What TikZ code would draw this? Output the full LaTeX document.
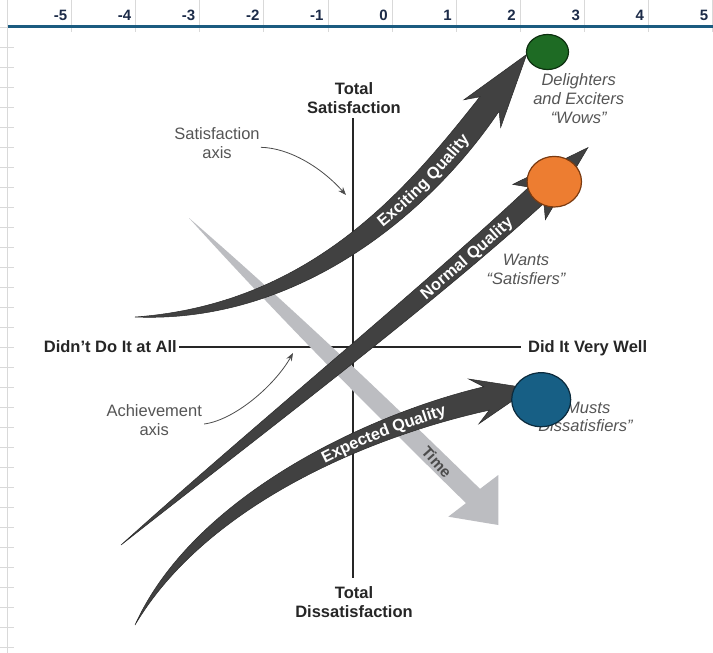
\documentclass[tikz,border=0pt]{standalone}
\usepackage{fontspec}
\setmainfont{Liberation Sans}
\usetikzlibrary{arrows.meta,decorations.text}
\definecolor{gridgray}{HTML}{D9D9D9}
\definecolor{axisblue}{HTML}{1B5B80}
\definecolor{numnavy}{HTML}{1C2B48}
\definecolor{arrowgray}{HTML}{414141}
\definecolor{arrowedge}{HTML}{2A2A2A}
\definecolor{timegray}{HTML}{BCBDC1}
\definecolor{labgray}{HTML}{555555}
\definecolor{axisdark}{HTML}{262626}
\definecolor{greenfill}{HTML}{1E6B24}
\definecolor{greenedge}{HTML}{0D3010}
\definecolor{orangefill}{HTML}{ED7D31}
\definecolor{orangeedge}{HTML}{7A3A10}
\definecolor{bluefill}{HTML}{175F85}
\definecolor{blueedge}{HTML}{0B2A3C}
\newcommand{\arrowtextfmt}{\fontsize{16.3}{16.3}\selectfont\bfseries\color{white}}
\begin{document}
\begin{tikzpicture}[x=1pt,y=-1pt,
  gridline/.style={draw=gridgray,line width=0.9pt},
  numlabel/.style={anchor=base east,inner sep=0pt,font=\fontsize{15}{15}\selectfont\bfseries,text=numnavy},
  axislabel/.style={inner sep=0pt,align=center,font=\fontsize{16.5}{19}\selectfont\bfseries,text=axisdark},
  notelabel/.style={inner sep=0pt,align=center,font=\fontsize{16.5}{18.7}\selectfont\itshape,text=labgray},
  axisnote/.style={inner sep=0pt,align=center,font=\fontsize{16.5}{18.5}\selectfont,text=labgray},
  axisline/.style={draw=axisdark,line width=1.8pt},
  bigarrow/.style={fill=arrowgray,draw=arrowedge,line width=0.5pt,line join=miter},
  timearrow/.style={fill=timegray},
  pointer/.style={draw=black!70,line width=0.8pt,-{Stealth[length=8pt,width=6pt]}},
  ballgreen/.style={fill=greenfill,draw=greenedge,line width=1.2pt},
  ballorange/.style={fill=orangefill,draw=orangeedge,line width=1.2pt},
  ballblue/.style={fill=bluefill,draw=blueedge,line width=1.2pt}]
\useasboundingbox (0,0) rectangle (713,653);
\fill[white] (0,0) rectangle (713,653);
% spreadsheet grid
\draw[gridline] (7.5,0) -- (7.5,653);
\foreach \j in {0,...,31} {\draw[gridline] (0,{27+20*\j}) -- (14,{27+20*\j});}
\foreach \k in {1,...,11} {
  \draw[gridline] ({7.5+64.1*\k},0) -- ({7.5+64.1*\k},32);
  \pgfmathtruncatemacro{\v}{\k-6}
  \node[numlabel] (num\k) at ({7.5+64.1*\k-4.3},20) {\v};
}
\draw[draw=axisblue,line width=2.6pt] (7.5,26.5) -- (713,26.5);
% axis labels
\node[axislabel] (ts) at (354,98.2) {Total\\Satisfaction};
\node[axislabel] (td) at (354,602) {Total\\Dissatisfaction};
\node[axislabel,anchor=base east] (dd) at (177,352.3) {Didn’t Do It at All};
\node[axislabel,anchor=base west] (dw) at (528,352.3) {Did It Very Well};
% axes
\draw[axisline] ([shift={(-1,4.3)}]ts.south) -- ([shift={(-1,-8.4)}]td.north);
\draw[axisline] ([shift={(2,-5.5)}]dd.base east) -- ([shift={(-7,-5.5)}]dw.base west);
% time arrow
\fill[timearrow] (189,218) .. controls (289.3,305) and (385.3,396.2) .. (480,488.9)
  -- (498.3,475) -- (498.3,525) -- (448.3,516.7) -- (466,503.1)
  .. controls (371.3,410.4) and (278.1,316.4) .. (189,218) -- cycle;
\node[font=\fontsize{15.5}{15.5}\selectfont\bfseries,text=black!70,rotate=-48,inner sep=0pt] (timelbl) at (436.7,461.7) {Time};
% exciting quality
\filldraw[bigarrow] (135,317) .. controls (315,304) and (411.5,183) .. (479.9,96.8)
  -- (463.9,99.8) -- (526.7,54.4) -- (500.7,127.4) -- (499.1,111.2)
  .. controls (432,211) and (300,324) .. (135,317) -- cycle;
% normal quality
\filldraw[bigarrow] (121,545) .. controls (254.1,425) and (419.4,289.9) .. (528.9,187.1)
  -- (512.8,184.4) -- (587.9,147.6) -- (545.4,219.6) -- (543.9,203.3)
  .. controls (433,304.6) and (261.9,434.2) .. (121,545) -- cycle;
% expected quality
\filldraw[bigarrow] (135,625) .. controls (193,496.3) and (367.6,414.3) .. (483.8,386.8)
  -- (468.7,379) -- (530.4,388.5) -- (478.9,423.8) -- (489.2,410.2)
  .. controls (372.4,435.7) and (207,503.7) .. (135,625) -- cycle;
% arrow texts
\path[decorate,decoration={text along path,text={|\arrowtextfmt|Exciting Quality},text align={right,right indent=40pt},raise=-6pt}]
  (135,317) .. controls (307.5,314) and (421.5,197) .. (489.5,104);
\path[decorate,decoration={text along path,text={|\arrowtextfmt|Normal Quality},text align={right,right indent=36pt},raise=-6pt}]
  (121,545) .. controls (258,429.6) and (426.2,297.2) .. (536.4,195.2);
\path[decorate,decoration={text along path,text={|\arrowtextfmt|Expected Quality},text align={right,right indent=43pt},raise=-6pt}]
  (135,625) .. controls (200,500) and (370,425) .. (486.5,398.5);
% notes
\node[notelabel] (wows) at (578.7,98.6) {Delighters\\and Exciters\\“Wows”};
\node[notelabel] (wants) at (526,269.5) {Wants\\“Satisfiers”};
\node[notelabel] (musts) at (585.5,417) {“Musts\\Dissatisfiers”};
\node[axisnote] (sa) at (217,143.3) {Satisfaction\\axis};
\node[axisnote] (aa) at (154.2,420) {Achievement\\axis};
\coordinate (satip) at (346,195);
\coordinate (achtip) at (293,353);
\draw[pointer] ([shift={(1,4)}]sa.east) .. controls (290,148) and (322,168) .. (satip);
\draw[pointer] ([shift={(2,4)}]aa.east) .. controls (235,420) and (275,385) .. (achtip);
% balls
\filldraw[ballgreen] (547.5,52) ellipse [x radius=21,y radius=17.5];
\filldraw[ballorange] (554.3,181.7) ellipse [x radius=27.2,y radius=25.3];
\filldraw[ballblue] (541.2,399.7) ellipse [x radius=29.5,y radius=27];
\end{tikzpicture}
\end{document}
